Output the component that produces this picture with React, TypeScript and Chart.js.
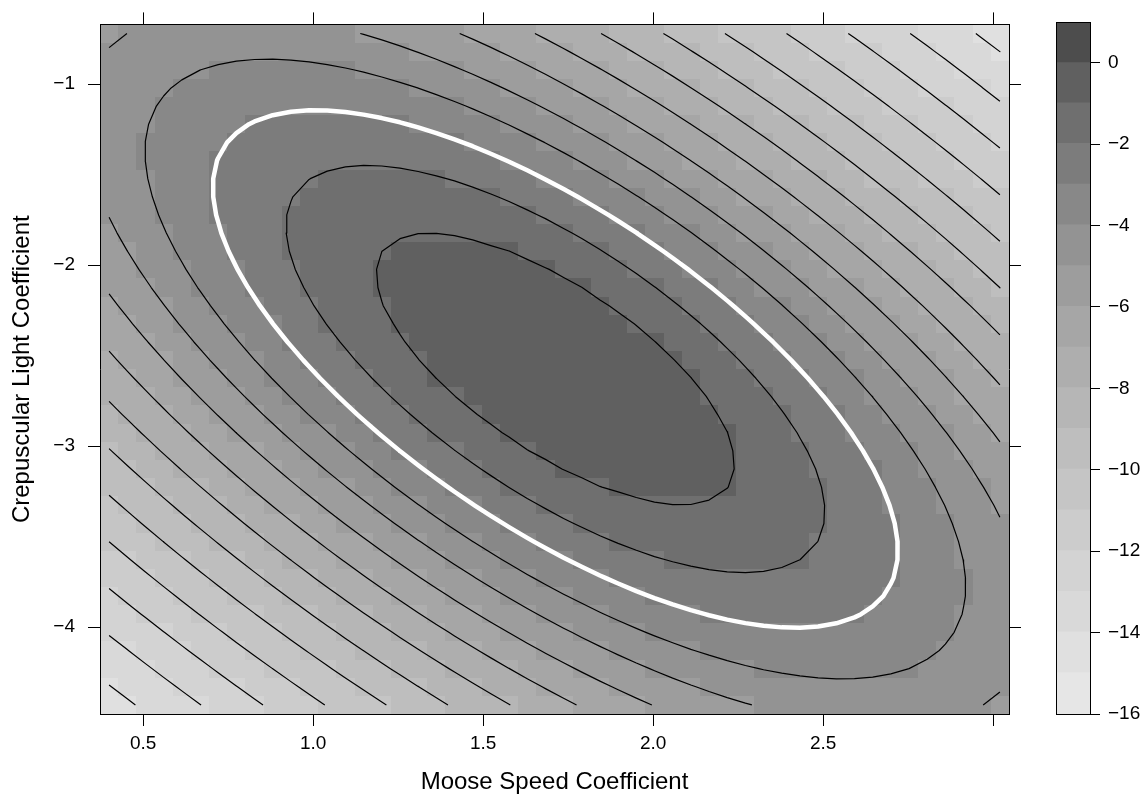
import React, { useEffect, useRef } from 'react';
import { Chart, registerables } from 'chart.js';

Chart.register(...registerables);

const FONT = '"Liberation Sans", Arial, Helvetica, sans-serif';

// ---- axis ticks -------------------------------------------------------
const xTickValues = [0.5, 1.0, 1.5, 2.0, 2.5, 3.0];
const xTickLabels = ['0.5', '1.0', '1.5', '2.0', '2.5', ''];
const yTickValues = [-4, -3, -2, -1];
const yTickLabels = ['−4', '−3', '−2', '−1'];
const keyTickValues = [-16, -14, -12, -10, -8, -6, -4, -2, 0];
const keyTickLabels = ['−16', '−14', '−12', '−10', '−8', '−6', '−4', '−2', '0'];

// ---- colour key: band breaks and grey of each band (lowest band first) --
const keyBreaks = [-16, -15, -14, -13, -12, -11, -10, -9, -8, -7, -6, -5, -4, -3, -2, -1, 0, 1];
const keyGreys = [
  '#e6e6e6', '#e0e0e0', '#d9d9d9', '#d3d3d3', '#cccccc', '#c5c5c5', '#bebebe', '#b6b6b6', '#aeaeae',
  '#a6a6a6', '#9d9d9d', '#939393', '#888888', '#7c7c7c', '#6f6f6f', '#606060', '#4d4d4d',
];

// ---- evaluation grid (cell centres) -----------------------------------
const xGridFrom = 0.4;
const xGridTo = 3.02;
const xGridCount = 50;
const yGridFrom = -4.43;
const yGridTo = -0.72;
const yGridCount = 38;

// ---- surface -----------------------------------------------------------
// centre of the concentric contours, value at the top, shape of the ellipses
const peakX = 1.7126;
const peakY = -2.574;
const peakValue = -0.28;
const shapeXX = 1.0;
const shapeXY = 0.4945;
const shapeYY = 0.4965;
// each contour level and the (shape-normalised) radius at which it was read
const contourLevels = [-1, -2, -3, -4, -5, -6, -7, -8, -9, -10, -11, -12, -13, -14];
const contourRadii = [0.377, 0.565, 0.718, 0.86, 0.992, 1.127, 1.265, 1.404, 1.546, 1.694, 1.848, 2.007, 2.17, 2.346];
const highlightLevel = -3;

const AXIS_TITLE_X = 'Moose Speed Coefficient';
const AXIS_TITLE_Y = 'Crepuscular Light Coefficient';

type Pt = { x: number; y: number };

function gridValues(from: number, to: number, n: number): number[] {
  const out: number[] = [];
  for (let i = 0; i < n; i++) out.push(from + (i * (to - from)) / (n - 1));
  return out;
}

// smooth (monotone cubic) profile through the read (radius, level) pairs
const profR = [0, ...contourRadii];
const profL = [peakValue, ...contourLevels];
const profSecant: number[] = [];
for (let k = 0; k < profR.length - 1; k++) profSecant.push((profL[k + 1] - profL[k]) / (profR[k + 1] - profR[k]));
const profSlope: number[] = profR.map((_, k) => {
  if (k === 0) return 0;
  if (k === profR.length - 1) return profSecant[k - 1];
  const a = profSecant[k - 1];
  const b = profSecant[k];
  return a * b > 0 ? (2 * a * b) / (a + b) : 0;
});

function levelAtRadius(r: number): number {
  const n = profR.length;
  if (r >= profR[n - 1]) return profL[n - 1] + profSlope[n - 1] * (r - profR[n - 1]);
  let k = 0;
  while (r > profR[k + 1]) k++;
  const h = profR[k + 1] - profR[k];
  const t = (r - profR[k]) / h;
  const t2 = t * t;
  const t3 = t2 * t;
  return (
    (2 * t3 - 3 * t2 + 1) * profL[k] +
    (t3 - 2 * t2 + t) * h * profSlope[k] +
    (-2 * t3 + 3 * t2) * profL[k + 1] +
    (t3 - t2) * h * profSlope[k + 1]
  );
}

function surface(x: number, y: number): number {
  const dx = x - peakX;
  const dy = y - peakY;
  const q = shapeXX * dx * dx + 2 * shapeXY * dx * dy + shapeYY * dy * dy;
  return levelAtRadius(Math.sqrt(Math.max(q, 0)));
}

const xs = gridValues(xGridFrom, xGridTo, xGridCount);
const ys = gridValues(yGridFrom, yGridTo, yGridCount);
const zs: number[][] = xs.map((x) => ys.map((y) => surface(x, y)));
const xStep = (xGridTo - xGridFrom) / (xGridCount - 1);
const yStep = (yGridTo - yGridFrom) / (yGridCount - 1);
const xMin = xGridFrom - xStep / 2;
const xMax = xGridTo + xStep / 2;
const yMin = yGridFrom - yStep / 2;
const yMax = yGridTo + yStep / 2;

function contourPolylines(level: number): Pt[][] {
  const pts = new Map<string, Pt>();
  const segs: [string, string][] = [];
  const edge = (key: string, x1: number, y1: number, z1: number, x2: number, y2: number, z2: number) => {
    if (!pts.has(key)) {
      const t = (level - z1) / (z2 - z1);
      pts.set(key, { x: x1 + t * (x2 - x1), y: y1 + t * (y2 - y1) });
    }
    return key;
  };
  for (let i = 0; i < xGridCount - 1; i++) {
    for (let j = 0; j < yGridCount - 1; j++) {
      const z00 = zs[i][j];
      const z10 = zs[i + 1][j];
      const z11 = zs[i + 1][j + 1];
      const z01 = zs[i][j + 1];
      const a00 = z00 > level;
      const a10 = z10 > level;
      const a11 = z11 > level;
      const a01 = z01 > level;
      const c: Record<string, string> = {};
      if (a00 !== a10) c.b = edge(`h${i},${j}`, xs[i], ys[j], z00, xs[i + 1], ys[j], z10);
      if (a10 !== a11) c.r = edge(`v${i + 1},${j}`, xs[i + 1], ys[j], z10, xs[i + 1], ys[j + 1], z11);
      if (a01 !== a11) c.t = edge(`h${i},${j + 1}`, xs[i], ys[j + 1], z01, xs[i + 1], ys[j + 1], z11);
      if (a00 !== a01) c.l = edge(`v${i},${j}`, xs[i], ys[j], z00, xs[i], ys[j + 1], z01);
      const keys = Object.keys(c);
      if (keys.length === 2) {
        segs.push([c[keys[0]], c[keys[1]]]);
      } else if (keys.length === 4) {
        const centre = (z00 + z10 + z11 + z01) / 4 > level;
        if (centre === a00) {
          segs.push([c.b, c.r]);
          segs.push([c.t, c.l]);
        } else {
          segs.push([c.b, c.l]);
          segs.push([c.r, c.t]);
        }
      }
    }
  }
  const adj = new Map<string, number[]>();
  segs.forEach((s, k) => {
    for (const e of s) {
      if (!adj.has(e)) adj.set(e, []);
      adj.get(e)!.push(k);
    }
  });
  const used = segs.map(() => false);
  const follow = (start: string): Pt[] => {
    let cur = start;
    const out: Pt[] = [pts.get(cur)!];
    for (;;) {
      const next = (adj.get(cur) || []).find((s) => !used[s]);
      if (next === undefined) break;
      used[next] = true;
      const s = segs[next];
      cur = s[0] === cur ? s[1] : s[0];
      out.push(pts.get(cur)!);
    }
    return out;
  };
  const lines: Pt[][] = [];
  adj.forEach((list, key) => {
    if (list.length === 1 && !used[list[0]]) lines.push(follow(key));
  });
  segs.forEach((s, k) => {
    if (!used[k]) lines.push(follow(s[0]));
  });
  return lines;
}

function bandColour(z: number): string {
  for (let k = 0; k < keyGreys.length; k++) {
    if (z <= keyBreaks[k + 1]) return keyGreys[k];
  }
  return keyGreys[keyGreys.length - 1];
}

const cellPlugin = {
  id: 'levelCells',
  beforeDraw(chart: any) {
    const { ctx, chartArea } = chart;
    const sx = chart.scales.x;
    const sy = chart.scales.y;
    const xe: number[] = [];
    for (let i = 0; i <= xGridCount; i++) xe.push(Math.round(sx.getPixelForValue(xGridFrom + (i - 0.5) * xStep)));
    const ye: number[] = [];
    for (let j = 0; j <= yGridCount; j++) ye.push(Math.round(sy.getPixelForValue(yGridFrom + (j - 0.5) * yStep)));
    ctx.save();
    ctx.beginPath();
    ctx.rect(chartArea.left, chartArea.top, chartArea.right - chartArea.left, chartArea.bottom - chartArea.top);
    ctx.clip();
    for (let i = 0; i < xGridCount; i++) {
      for (let j = 0; j < yGridCount; j++) {
        ctx.fillStyle = bandColour(zs[i][j]);
        ctx.fillRect(xe[i], ye[j + 1], xe[i + 1] - xe[i], ye[j] - ye[j + 1]);
      }
    }
    ctx.restore();
  },
};

const framePlugin = {
  id: 'keyFrame',
  afterDraw(chart: any) {
    const { ctx, chartArea } = chart;
    ctx.save();
    ctx.strokeStyle = '#000';
    ctx.lineWidth = 1;
    ctx.strokeRect(chartArea.left + 0.5, chartArea.top + 0.5, chartArea.right - chartArea.left, chartArea.bottom - chartArea.top);
    ctx.restore();
  },
};

const tickFont = { family: FONT, size: 19 };
const titleFont = { family: FONT, size: 24 };
const gridOpts = { display: true, drawOnChartArea: false, drawTicks: true, tickLength: 12, color: '#000', tickColor: '#000', tickWidth: 1 };
const borderOpts = { display: true, color: '#000', width: 1 };

export default function App() {
  const mainRef = useRef<HTMLCanvasElement>(null);
  const keyRef = useRef<HTMLCanvasElement>(null);

  useEffect(() => {
    const datasets: any[] = [];
    contourLevels.forEach((level) => {
      const white = level === highlightLevel;
      contourPolylines(level).forEach((line) => {
        datasets.push({
          type: 'line',
          data: line,
          borderColor: white ? '#ffffff' : '#000000',
          borderWidth: white ? 4.5 : 1.2,
          borderJoinStyle: 'round',
          borderCapStyle: white ? 'round' : 'butt',
          pointRadius: 0,
          tension: 0,
          fill: false,
        });
      });
    });

    const main = new Chart(mainRef.current!, {
      type: 'line',
      data: { datasets },
      plugins: [cellPlugin],
      options: {
        responsive: false,
        animation: false,
        events: [],
        layout: { padding: 0 },
        plugins: { legend: { display: false }, tooltip: { enabled: false } },
        scales: {
          x: {
            type: 'linear',
            position: 'bottom',
            min: xMin,
            max: xMax,
            afterBuildTicks: (s: any) => { s.ticks = xTickValues.map((v) => ({ value: v })); },
            afterFit: (s: any) => { s.height = 85; },
            grid: gridOpts,
            border: borderOpts,
            ticks: { autoSkip: false, maxRotation: 0, font: tickFont, color: '#000', padding: 6, callback: (_v: any, i: number) => xTickLabels[i] },
            title: { display: true, text: AXIS_TITLE_X, font: titleFont, color: '#000', padding: { top: 0, bottom: 2 } },
          },
          x2: {
            type: 'linear',
            position: 'top',
            min: xMin,
            max: xMax,
            afterBuildTicks: (s: any) => { s.ticks = xTickValues.map((v) => ({ value: v })); },
            afterFit: (s: any) => { s.height = 22; },
            grid: gridOpts,
            border: borderOpts,
            ticks: { display: false },
          },
          y: {
            type: 'linear',
            position: 'left',
            min: yMin,
            max: yMax,
            afterBuildTicks: (s: any) => { s.ticks = yTickValues.map((v) => ({ value: v })); },
            afterFit: (s: any) => { s.width = 100; },
            grid: gridOpts,
            border: borderOpts,
            ticks: { autoSkip: false, font: tickFont, color: '#000', padding: 13, callback: (_v: any, i: number) => yTickLabels[i] },
            title: { display: true, text: AXIS_TITLE_Y, font: titleFont, color: '#000', padding: { top: 7.5, bottom: 0 } },
          },
          y2: {
            type: 'linear',
            position: 'right',
            min: yMin,
            max: yMax,
            afterBuildTicks: (s: any) => { s.ticks = yTickValues.map((v) => ({ value: v })); },
            afterFit: (s: any) => { s.width = 31; },
            grid: gridOpts,
            border: borderOpts,
            ticks: { display: false },
          },
        },
      } as any,
    });

    const keyDatasets = keyGreys.map((g, k) => ({
      data: [[keyBreaks[k], keyBreaks[k + 1]]],
      backgroundColor: g,
      borderWidth: 0,
      inflateAmount: 1,
      grouped: false,
      barPercentage: 1,
      categoryPercentage: 1,
    }));

    const key = new Chart(keyRef.current!, {
      type: 'bar',
      data: { labels: [''], datasets: keyDatasets as any },
      plugins: [framePlugin],
      options: {
        responsive: false,
        animation: false,
        events: [],
        layout: { padding: { left: 16, top: 22, bottom: 85, right: 0 } },
        plugins: { legend: { display: false }, tooltip: { enabled: false } },
        scales: {
          x: { display: false },
          y: {
            position: 'right',
            min: keyBreaks[0],
            max: keyBreaks[keyBreaks.length - 1],
            afterBuildTicks: (s: any) => { s.ticks = keyTickValues.map((v) => ({ value: v })); },
            afterFit: (s: any) => { s.width = 58; },
            grid: { ...gridOpts, tickLength: 10 },
            border: { display: false },
            ticks: { autoSkip: false, font: tickFont, color: '#000', padding: 8, callback: (_v: any, i: number) => keyTickLabels[i] },
          },
        },
      } as any,
    });

    return () => {
      main.destroy();
      key.destroy();
    };
  }, []);

  return (
    <div style={{ position: 'absolute', left: 0, top: 0, width: 1148, height: 799, background: '#ffffff' }}>
      <canvas ref={mainRef} width={1040} height={799} style={{ position: 'absolute', left: 0, top: 0 }} />
      <canvas ref={keyRef} width={108} height={799} style={{ position: 'absolute', left: 1040, top: 0 }} />
    </div>
  );
}
